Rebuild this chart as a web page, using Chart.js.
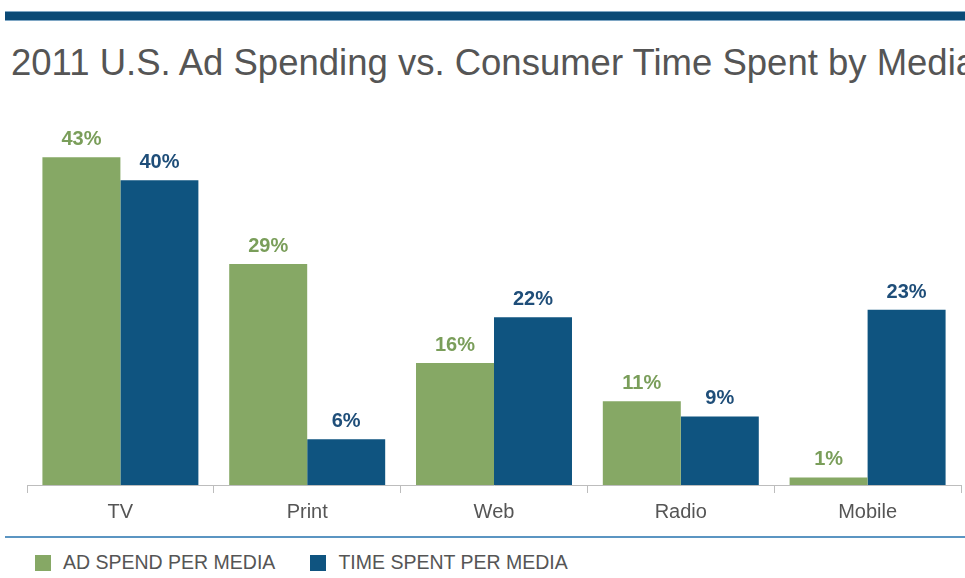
<!DOCTYPE html>
<html>
<head>
<meta charset="utf-8">
<script src="https://cdn.jsdelivr.net/npm/chart.js@4/dist/chart.umd.min.js"></script>
<style>
  html, body { margin: 0; padding: 0; background: #fff; width: 965px; height: 578px; overflow: hidden; }
  body { position: relative; font-family: "Liberation Sans", Arial, sans-serif; }
  #topRule { position: absolute; left: 5px; top: 12px; width: 960px; height: 8px; background: #0b4a76;
             box-shadow: 0 -1px 0 #7ea6c4, 0 1px 0 #7ea6c4; }
  #title { position: absolute; left: 11px; top: 41px; white-space: nowrap; font-size: 36.5px; color: #555;
           font-weight: normal; margin: 0; line-height: 44px; }
  #chartBox { position: absolute; left: 0; top: 0; width: 965px; height: 531px; }
  #bottomRule { position: absolute; left: 5px; top: 536px; width: 960px; height: 2px; background: #5b95c2; }
  #legend { position: absolute; left: 35px; top: 551px; display: flex; align-items: center; font-size: 19.5px; color: #555; }
  .item { display: flex; align-items: center; margin-right: 35px; }
  .swatch { width: 16px; height: 16px; margin-right: 12px; }
</style>
</head>
<body>
<div id="topRule"></div>
<h1 id="title">2011 U.S. Ad Spending vs. Consumer Time Spent by Media</h1>
<div id="chartBox"><canvas id="chart" width="965" height="531"></canvas></div>
<div id="bottomRule"></div>
<div id="legend"></div>
<script>
// Media categories and the two shares (in %) shown for each
const categories = ["TV", "Print", "Web", "Radio", "Mobile"];
const adSpend = [43, 29, 16, 11, 1];
const timeSpent = [40, 6, 22, 9, 23];
const seriesNames = ["AD SPEND PER MEDIA", "TIME SPENT PER MEDIA"];

const barColors = ["#86a865", "#0f5480"];
const labelColors = ["#7a9e5a", "#1f4e79"];
const fontFamily = '"Liberation Sans", Arial, sans-serif';

// Writes each bar's value above it
const valueLabels = {
  id: "valueLabels",
  afterDatasetsDraw(chart) {
    const ctx = chart.ctx;
    ctx.save();
    ctx.font = 'bold 20px ' + fontFamily;
    ctx.textAlign = "center";
    ctx.textBaseline = "alphabetic";
    chart.data.datasets.forEach((ds, i) => {
      const meta = chart.getDatasetMeta(i);
      ctx.fillStyle = labelColors[i];
      meta.data.forEach((bar, j) => {
        ctx.fillText(ds.data[j] + "%", bar.x, bar.y - 12);
      });
    });
    ctx.restore();
  }
};

const chart = new Chart(document.getElementById("chart"), {
  type: "bar",
  data: {
    labels: categories,
    datasets: [
      { label: seriesNames[0], data: adSpend, backgroundColor: barColors[0] },
      { label: seriesNames[1], data: timeSpent, backgroundColor: barColors[1] }
    ]
  },
  options: {
    responsive: false,
    animation: false,
    devicePixelRatio: 1,
    layout: { padding: { top: 104, left: 27, right: 4, bottom: 0 } },
    datasets: { bar: { categoryPercentage: 0.835, barPercentage: 1 } },
    plugins: {
      legend: { display: false },
      tooltip: { enabled: false }
    },
    scales: {
      x: {
        grid: { display: true, drawOnChartArea: false, drawTicks: true, tickLength: 8, color: "#bdbdbd", offset: true },
        border: { display: true, color: "#bdbdbd", width: 1 },
        ticks: { color: "#555", padding: 7, font: { family: fontFamily, size: 20 } }
      },
      y: { display: false, min: 0, max: 50 }
    }
  },
  plugins: [valueLabels]
});

// Legend built from the dataset names and colours
const legend = document.getElementById("legend");
chart.data.datasets.forEach((ds) => {
  const item = document.createElement("div");
  item.className = "item";
  const sw = document.createElement("span");
  sw.className = "swatch";
  sw.style.background = ds.backgroundColor;
  const txt = document.createElement("span");
  txt.textContent = ds.label;
  item.appendChild(sw);
  item.appendChild(txt);
  legend.appendChild(item);
});
</script>
</body>
</html>
